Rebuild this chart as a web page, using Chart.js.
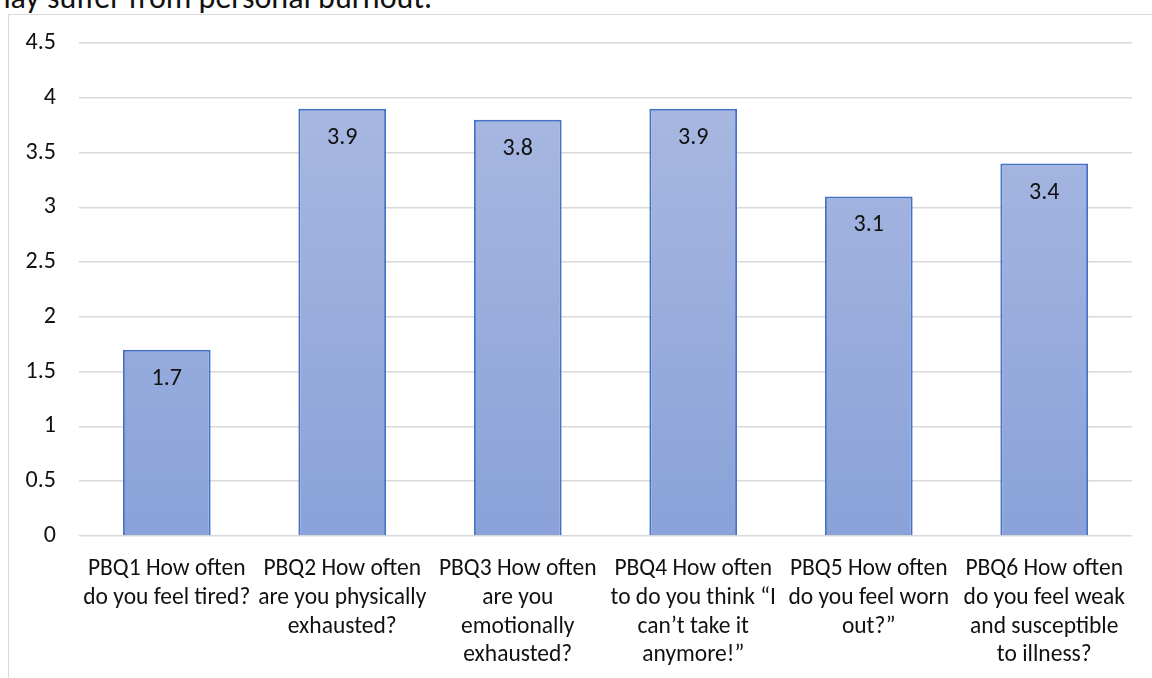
<!DOCTYPE html>
<html>
<head>
<meta charset="utf-8">
<script src="https://cdn.jsdelivr.net/npm/chart.js@4.4.1/dist/chart.umd.min.js"></script>
<style>
  html, body { margin: 0; padding: 0; background: #fff; overflow: hidden; }
  #wrap { position: relative; width: 1152px; height: 678px; }
  #caption { position: absolute; left: -15px; top: -18px; font: 32px Carlito, Lato, sans-serif; line-height: 32px; color: #111; white-space: nowrap; }
  #frame { position: absolute; left: 8px; top: 14px; width: 1200px; height: 700px; border: 1px solid #d9d9d9; box-sizing: border-box; }
  #chart { position: absolute; left: 0; top: 0; }
</style>
</head>
<body>
<div id="wrap">
  <div id="caption">may suffer from personal burnout.</div>
  <div id="frame"></div>
  <canvas id="chart" width="1152" height="678"></canvas>
</div>
<script>
// categories (wrapped the same way as the original axis)
const categories = [
    ["PBQ1 How often", "do you feel tired?"],
    ["PBQ2 How often", "are you physically", "exhausted?"],
    ["PBQ3 How often", "are you", "emotionally", "exhausted?"],
    ["PBQ4 How often", "to do you think \u201cI", "can\u2019t take it", "anymore!\u201d"],
    ["PBQ5 How often", "do you feel worn", "out?\u201d"],
    ["PBQ6 How often", "do you feel weak", "and susceptible", "to illness?"]
];
const meanScores = [1.7, 3.9, 3.8, 3.9, 3.1, 3.4];
const yTicks = [0, 0.5, 1, 1.5, 2, 2.5, 3, 3.5, 4, 4.5];

const fontFamily = "Carlito, Lato, sans-serif";

// value labels drawn just inside the top of each bar
const barValueLabels = {
    id: 'barValueLabels',
    afterDatasetsDraw(chart) {
        const ctx = chart.ctx;
        const meta = chart.getDatasetMeta(0);
        ctx.save();
        ctx.font = "24px " + fontFamily;
        ctx.fillStyle = "#111";
        ctx.textAlign = "center";
        ctx.textBaseline = "middle";
        meta.data.forEach((bar, i) => {
            ctx.fillText(String(meanScores[i]), bar.x, bar.y + 29);
        });
        ctx.restore();
    }
};

const ctx = document.getElementById('chart').getContext('2d');

// vertical gradient like the Excel fill
const grad = ctx.createLinearGradient(0, 43, 0, 536);
grad.addColorStop(0, '#abbae2');
grad.addColorStop(1, '#8aa2d9');

new Chart(ctx, {
    type: 'bar',
    data: {
        labels: categories,
        datasets: [{
            data: meanScores,
            backgroundColor: grad,
            borderColor: '#4472c4',
            borderWidth: 2,
            categoryPercentage: 1,
            barPercentage: 0.5
        }]
    },
    options: {
        responsive: false,
        animation: false,
        layout: { padding: { top: 43, right: 20, left: 0, bottom: 0 } },
        plugins: {
            legend: { display: false },
            tooltip: { enabled: false }
        },
        scales: {
            x: {
                grid: { display: false, drawTicks: false },
                border: { display: false },
                ticks: {
                    color: '#111',
                    font: { family: fontFamily, size: 23.5, lineHeight: 1.22 },
                    maxRotation: 0,
                    autoSkip: false,
                    padding: 19
                },
                afterFit(scale) { scale.height = 142; }
            },
            y: {
                min: 0,
                max: 4.5,
                afterBuildTicks(scale) {
                    scale.ticks = yTicks.map(v => ({ value: v }));
                },
                grid: { color: '#d9d9d9', lineWidth: 1.5, drawTicks: false },
                border: { display: false },
                ticks: {
                    color: '#111',
                    font: { family: fontFamily, size: 24 },
                    padding: 23,
                    callback: v => String(v)
                },
                afterFit(scale) { scale.width = 79; }
            }
        }
    },
    plugins: [barValueLabels]
});
</script>
</body>
</html>
